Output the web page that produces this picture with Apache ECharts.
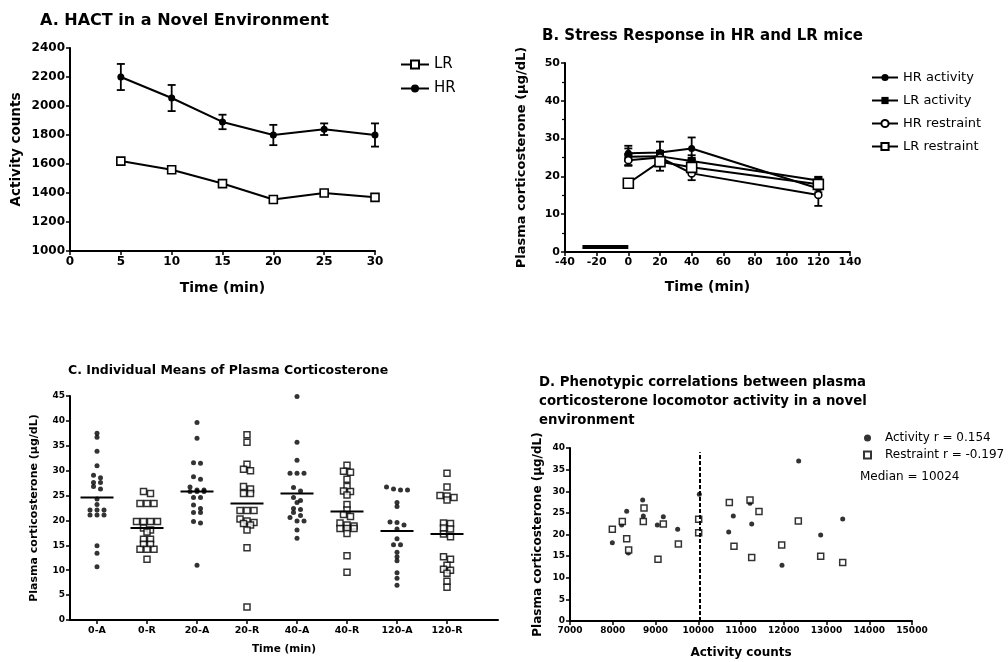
<!DOCTYPE html>
<html><head><meta charset="utf-8">
<script src="https://cdn.jsdelivr.net/npm/echarts@6/dist/echarts.min.js"></script>
<style>html,body{margin:0;padding:0;background:#fff}#c{width:1008px;height:662px}</style>
</head><body><div id="c"></div><script>
// ---------- Panel A ----------
const timesA = [5, 10, 15, 20, 25, 30];
const hrA = [2200, 2055, 1890, 1800, 1840, 1800];
const hrSemA = [90, 90, 50, 70, 40, 80];
const lrA = [1620, 1560, 1465, 1355, 1400, 1370];
// ---------- Panel B ----------
const timesB = [0, 20, 40, 120];
const hrActB = [26.1, 26.3, 27.4, 16.8];
const hrActSemB = [2.0, 2.9, 2.9, 1.0];
const lrActB = [25.2, 25.3, 24.1, 18.9];
const lrActSemB = [2.2, 1.5, 1.5, 1.0];
const hrResB = [24.3, 25.0, 20.8, 15.1];
const hrResSemB = [1.5, 1.5, 1.8, 2.9];
const lrResB = [18.2, 23.9, 22.4, 17.9];
const lrResSemB = [1.0, 2.4, 1.5, 1.0];
const stressBarB = [-29, 0];
const stressBarLevelB = 1.3;
// ---------- Panel C ----------
const categoriesC = ['0-A', '0-R', '20-A', '20-R', '40-A', '40-R', '120-A', '120-R'];
const c0A = [37.5, 36.7, 33.9, 31.0, 29.1, 28.6, 27.6, 27.6, 26.8, 26.3, 24.3, 23.2, 22.1, 22.1, 22.1, 21.1, 21.1, 21.1, 14.9, 13.4, 10.7];
const c0R = [25.8, 25.4, 23.4, 23.4, 23.4, 19.8, 19.8, 19.8, 19.8, 18.5, 18.1, 17.7, 16.2, 16.2, 15.2, 15.2, 14.2, 14.2, 14.2, 12.2];
const c20A = [39.7, 36.5, 31.6, 31.5, 28.8, 28.3, 26.7, 26.1, 26.1, 25.8, 25.8, 25.8, 24.6, 24.6, 23.1, 22.4, 21.6, 21.6, 19.8, 19.5, 11.0];
const c20R = [37.2, 35.7, 31.3, 30.3, 30.0, 26.8, 26.3, 25.4, 25.4, 22.0, 22.0, 22.0, 20.3, 19.9, 19.6, 19.4, 19.1, 18.1, 14.5, 2.6];
const c40A = [44.9, 35.7, 32.1, 29.5, 29.5, 29.5, 26.6, 25.9, 24.6, 24.0, 23.6, 22.4, 22.2, 21.6, 21.0, 20.6, 19.9, 19.9, 18.1, 16.4];
const c40R = [31.1, 29.9, 29.7, 28.3, 26.8, 25.9, 25.8, 25.1, 23.2, 22.1, 21.2, 20.8, 19.5, 19.1, 18.9, 18.4, 18.4, 18.4, 17.4, 12.9, 9.6];
const c120A = [26.7, 26.3, 26.1, 26.1, 23.6, 22.8, 19.7, 19.6, 19.1, 18.3, 16.3, 15.1, 15.1, 13.6, 12.7, 11.9, 9.5, 8.4, 7.0];
const c120R = [29.5, 26.7, 25.0, 24.9, 24.6, 24.1, 19.5, 19.4, 18.5, 18.3, 17.3, 16.7, 12.7, 12.2, 11.0, 10.2, 10.0, 9.4, 7.8, 6.6];
const meansC = [24.6, 18.5, 25.8, 23.4, 25.4, 21.8, 17.9, 17.3];
// ---------- Panel D ----------
const actX = [7990, 8209, 8326, 8365, 8700, 8715, 9043, 9183, 9518, 10025, 10712, 10820, 11211, 11250, 11959, 12349, 12864, 13379];
const actY = [18.1, 22.2, 25.4, 15.7, 28.0, 24.3, 22.2, 24.1, 21.2, 29.3, 20.6, 24.3, 27.2, 22.4, 12.9, 37.0, 19.9, 23.6];
const resX = [7990, 8224, 8326, 8372, 8731, 8715, 9058, 9183, 9535, 10010, 10010, 10727, 10836, 11211, 11250, 11421, 11952, 12341, 12864, 13379];
const resY = [21.2, 23.0, 19.0, 16.4, 26.1, 23.0, 14.3, 22.4, 17.8, 23.5, 20.4, 27.4, 17.3, 28.0, 14.7, 25.3, 17.6, 23.1, 15.0, 13.5];
const medianD = 10024;

const FONT = 'DejaVu Sans, Liberation Sans, sans-serif';
const groupsC = [c0A, c0R, c20A, c20R, c40A, c40R, c120A, c120R];

// GraphPad-like column scatter: rows of near-equal values spread symmetrically
function swarm(values, idx, rowTol, step, maxRow) {
  const s = values.slice().sort((a, b) => b - a);
  const out = [];
  let row = [];
  const flush = () => {
    row.forEach((v, i) => out.push([idx + (i - (row.length - 1) / 2) * step, v]));
    row = [];
  };
  s.forEach(v => {
    if (row.length && ((row[0] - v) >= rowTol || row.length >= maxRow)) flush();
    row.push(v);
  });
  flush();
  return out;
}
const dotsC = [], squaresC = [];
groupsC.forEach((g, i) => {
  const pts = swarm(g, i + 1, 0.75, 0.14, 5);
  (categoriesC[i].endsWith('A') ? dotsC : squaresC).push(...pts);
});

function errRender(params, api) {
  const x = api.value(0), lo = api.value(1), hi = api.value(2);
  const a = api.coord([x, lo]), b = api.coord([x, hi]);
  const w = 4, st = { stroke: '#000', lineWidth: 1.8 };
  return { type: 'group', children: [
    { type: 'line', shape: { x1: a[0], y1: a[1], x2: b[0], y2: b[1] }, style: st },
    { type: 'line', shape: { x1: b[0] - w, y1: b[1], x2: b[0] + w, y2: b[1] }, style: st },
    { type: 'line', shape: { x1: a[0] - w, y1: a[1], x2: a[0] + w, y2: a[1] }, style: st }
  ]};
}
function errData(xs, m, s) { return xs.map((x, i) => [x, m[i] - s[i], m[i] + s[i]]); }
function meanRender(params, api) {
  const p = api.coord([api.value(0), api.value(1)]);
  const half = api.size([0.33, 0])[0];
  return { type: 'line', shape: { x1: p[0] - half, y1: p[1], x2: p[0] + half, y2: p[1] }, style: { stroke: '#000', lineWidth: 2 } };
}
function pairs(xs, ys) { return xs.map((x, i) => [x, ys[i]]); }
function nameStyle(fs) { return { color: '#000', fontWeight: 'bold', fontFamily: FONT, fontSize: fs }; }

function axis(o, fs) {
  return Object.assign({
    type: 'value', gridIndex: 0,
    axisLine: { show: true, onZero: false, lineStyle: { color: '#000', width: 2 } },
    axisTick: { show: true, length: 4, lineStyle: { color: '#000', width: 1.5 } },
    splitLine: { show: false },
    axisLabel: { color: '#000', fontWeight: 'bold', fontSize: fs, fontFamily: FONT, margin: 5, formatter: v => String(v) },
    nameLocation: 'middle'
  }, o);
}

const openSq = { color: '#fff', borderColor: '#000', borderWidth: 1.6 };
const filled = { color: '#000', borderColor: '#000', borderWidth: 0 };
const lineSt = { color: '#000', width: 2 };

const option = {
  animation: false,
  backgroundColor: '#fff',
  textStyle: { fontFamily: FONT },
  title: [
    { text: 'A. HACT in a Novel Environment', left: 35, top: 8, textStyle: { fontSize: 16, fontWeight: 'bold', color: '#000', fontFamily: FONT } },
    { text: 'B. Stress Response in HR and LR mice', left: 537, top: 24, textStyle: { fontSize: 15, fontWeight: 'bold', color: '#000', fontFamily: FONT } },
    { text: 'C. Individual Means of Plasma Corticosterone', left: 63, top: 359, textStyle: { fontSize: 12.5, fontWeight: 'bold', color: '#000', fontFamily: FONT } },
    { text: 'D. Phenotypic correlations between plasma\ncorticosterone locomotor activity in a novel\nenvironment', left: 534, top: 368, textStyle: { fontSize: 13.3, lineHeight: 19, fontWeight: 'bold', color: '#000', fontFamily: FONT } }
  ],
  grid: [
    { left: 70, top: 48, width: 305, height: 203 },
    { left: 565, top: 63, width: 285, height: 189 },
    { left: 70, top: 396, width: 428, height: 224 },
    { left: 570, top: 448, width: 342, height: 173 }
  ],
  xAxis: [
    axis({ gridIndex: 0, min: 0, max: 30, interval: 5, name: 'Time (min)', nameGap: 30, nameTextStyle: nameStyle(14) }, 12),
    axis({ gridIndex: 1, min: -40, max: 140, interval: 20, name: 'Time (min)', nameGap: 28, nameTextStyle: nameStyle(14) }, 11),
    axis({ gridIndex: 2, min: 0.46, max: 9.02,
      axisLabel: { color: '#000', fontWeight: 'bold', fontSize: 9.5, fontFamily: FONT, margin: 6, customValues: [1, 2, 3, 4, 5, 6, 7, 8], formatter: v => categoriesC[Math.round(v) - 1] || '' },
      axisTick: { show: true, length: 4, lineStyle: { color: '#000', width: 1.5 }, customValues: [1, 2, 3, 4, 5, 6, 7, 8] },
      name: 'Time (min)', nameGap: 24, nameTextStyle: nameStyle(10.5) }, 9.5),
    axis({ gridIndex: 3, min: 7000, max: 15000, interval: 1000, name: 'Activity counts', nameGap: 26, nameTextStyle: nameStyle(12) }, 9)
  ],
  yAxis: [
    axis({ gridIndex: 0, min: 1000, max: 2400, interval: 200, name: 'Activity counts', nameGap: 47, nameTextStyle: nameStyle(13.5) }, 12),
    axis({ gridIndex: 1, min: 0, max: 50, interval: 10, minorTick: { show: true, splitNumber: 2, length: 3, lineStyle: { color: '#000', width: 1.2 } }, name: 'Plasma corticosterone (µg/dL)', nameGap: 37, nameTextStyle: nameStyle(13) }, 11),
    axis({ gridIndex: 2, min: 0, max: 45, interval: 5, name: 'Plasma corticosterone (µg/dL)', nameGap: 30, nameTextStyle: nameStyle(11) }, 9),
    axis({ gridIndex: 3, min: 0, max: 40, interval: 5, name: 'Plasma corticosterone (µg/dL)', nameGap: 26, nameTextStyle: nameStyle(12) }, 9)
  ],
  legend: [
    { left: 395, top: 52, orient: 'vertical', itemWidth: 28, itemHeight: 10, itemGap: 9, data: ['LR', 'HR'], textStyle: { fontSize: 15, color: '#000', fontFamily: FONT } },
    { left: 866, top: 66, orient: 'vertical', itemWidth: 26, itemHeight: 9, itemGap: 10, data: ['HR activity', 'LR activity', 'HR restraint', 'LR restraint'], textStyle: { fontSize: 13, color: '#000', fontFamily: FONT } },
    { left: 858, top: 427, orient: 'vertical', itemWidth: 7, itemHeight: 7, itemGap: 5, data: ['Activity r = 0.154', 'Restraint r = -0.197'], textStyle: { fontSize: 12, color: '#000', fontFamily: FONT, padding: [0, 0, 0, 9] } }
  ],
  graphic: [
    { type: 'text', left: 860, top: 471, style: { text: 'Median = 10024', fontSize: 12, fontFamily: FONT, fill: '#000' } }
  ],
  series: [
    // A
    { type: 'custom', xAxisIndex: 0, yAxisIndex: 0, renderItem: errRender, data: errData(timesA, hrA, hrSemA), z: 1 },
    { name: 'LR', type: 'line', xAxisIndex: 0, yAxisIndex: 0, data: pairs(timesA, lrA), symbol: 'rect', symbolSize: 8, lineStyle: lineSt, itemStyle: openSq, z: 3 },
    { name: 'HR', type: 'line', xAxisIndex: 0, yAxisIndex: 0, data: pairs(timesA, hrA), symbol: 'circle', symbolSize: 7, lineStyle: lineSt, itemStyle: filled, z: 3 },
    // B
    { type: 'custom', xAxisIndex: 1, yAxisIndex: 1, renderItem: errRender, data: errData(timesB, hrActB, hrActSemB), z: 1 },
    { type: 'custom', xAxisIndex: 1, yAxisIndex: 1, renderItem: errRender, data: errData(timesB, lrActB, lrActSemB), z: 1 },
    { type: 'custom', xAxisIndex: 1, yAxisIndex: 1, renderItem: errRender, data: errData(timesB, hrResB, hrResSemB), z: 1 },
    { type: 'custom', xAxisIndex: 1, yAxisIndex: 1, renderItem: errRender, data: errData(timesB, lrResB, lrResSemB), z: 1 },
    { name: 'HR activity', type: 'line', xAxisIndex: 1, yAxisIndex: 1, data: pairs(timesB, hrActB), symbol: 'circle', symbolSize: 7, lineStyle: lineSt, itemStyle: filled, z: 3 },
    { name: 'LR activity', type: 'line', xAxisIndex: 1, yAxisIndex: 1, data: pairs(timesB, lrActB), symbol: 'rect', symbolSize: 8, lineStyle: lineSt, itemStyle: filled, z: 3 },
    { name: 'HR restraint', type: 'line', xAxisIndex: 1, yAxisIndex: 1, data: pairs(timesB, hrResB), symbol: 'circle', symbolSize: 7, lineStyle: lineSt, itemStyle: openSq, z: 3 },
    { name: 'LR restraint', type: 'line', xAxisIndex: 1, yAxisIndex: 1, data: pairs(timesB, lrResB), symbol: 'rect', symbolSize: 10, lineStyle: lineSt, itemStyle: openSq, z: 4 },
    { type: 'line', xAxisIndex: 1, yAxisIndex: 1, data: stressBarB.map(x => [x, stressBarLevelB]), symbol: 'none', lineStyle: { color: '#000', width: 4 }, z: 2 },
    // C
    { type: 'scatter', xAxisIndex: 2, yAxisIndex: 2, data: dotsC, symbol: 'circle', symbolSize: 5, itemStyle: filled, z: 3 },
    { type: 'scatter', xAxisIndex: 2, yAxisIndex: 2, data: squaresC, symbol: 'rect', symbolSize: 6, itemStyle: { color: '#fff', borderColor: '#000', borderWidth: 1.5 }, z: 3 },
    { type: 'custom', xAxisIndex: 2, yAxisIndex: 2, renderItem: meanRender, data: meansC.map((m, i) => [i + 1, m]), z: 4 },
    // D
    { name: 'Activity r = 0.154', type: 'scatter', xAxisIndex: 3, yAxisIndex: 3, data: pairs(actX, actY), symbol: 'circle', symbolSize: 5, itemStyle: filled, z: 3,
      markLine: { silent: true, symbol: ['none', 'none'], label: { show: false }, lineStyle: { color: '#000', width: 2, type: [4, 2] },
        data: [[{ coord: [medianD, 0] }, { coord: [medianD, 39] }]] } },
    { name: 'Restraint r = -0.197', type: 'scatter', xAxisIndex: 3, yAxisIndex: 3, data: pairs(resX, resY), symbol: 'rect', symbolSize: 6, itemStyle: { color: '#fff', borderColor: '#000', borderWidth: 1.5 }, z: 4 }
  ]
};
const chart = echarts.init(document.getElementById('c'), null, { renderer: 'canvas' });
chart.setOption(option);
</script></body></html>
